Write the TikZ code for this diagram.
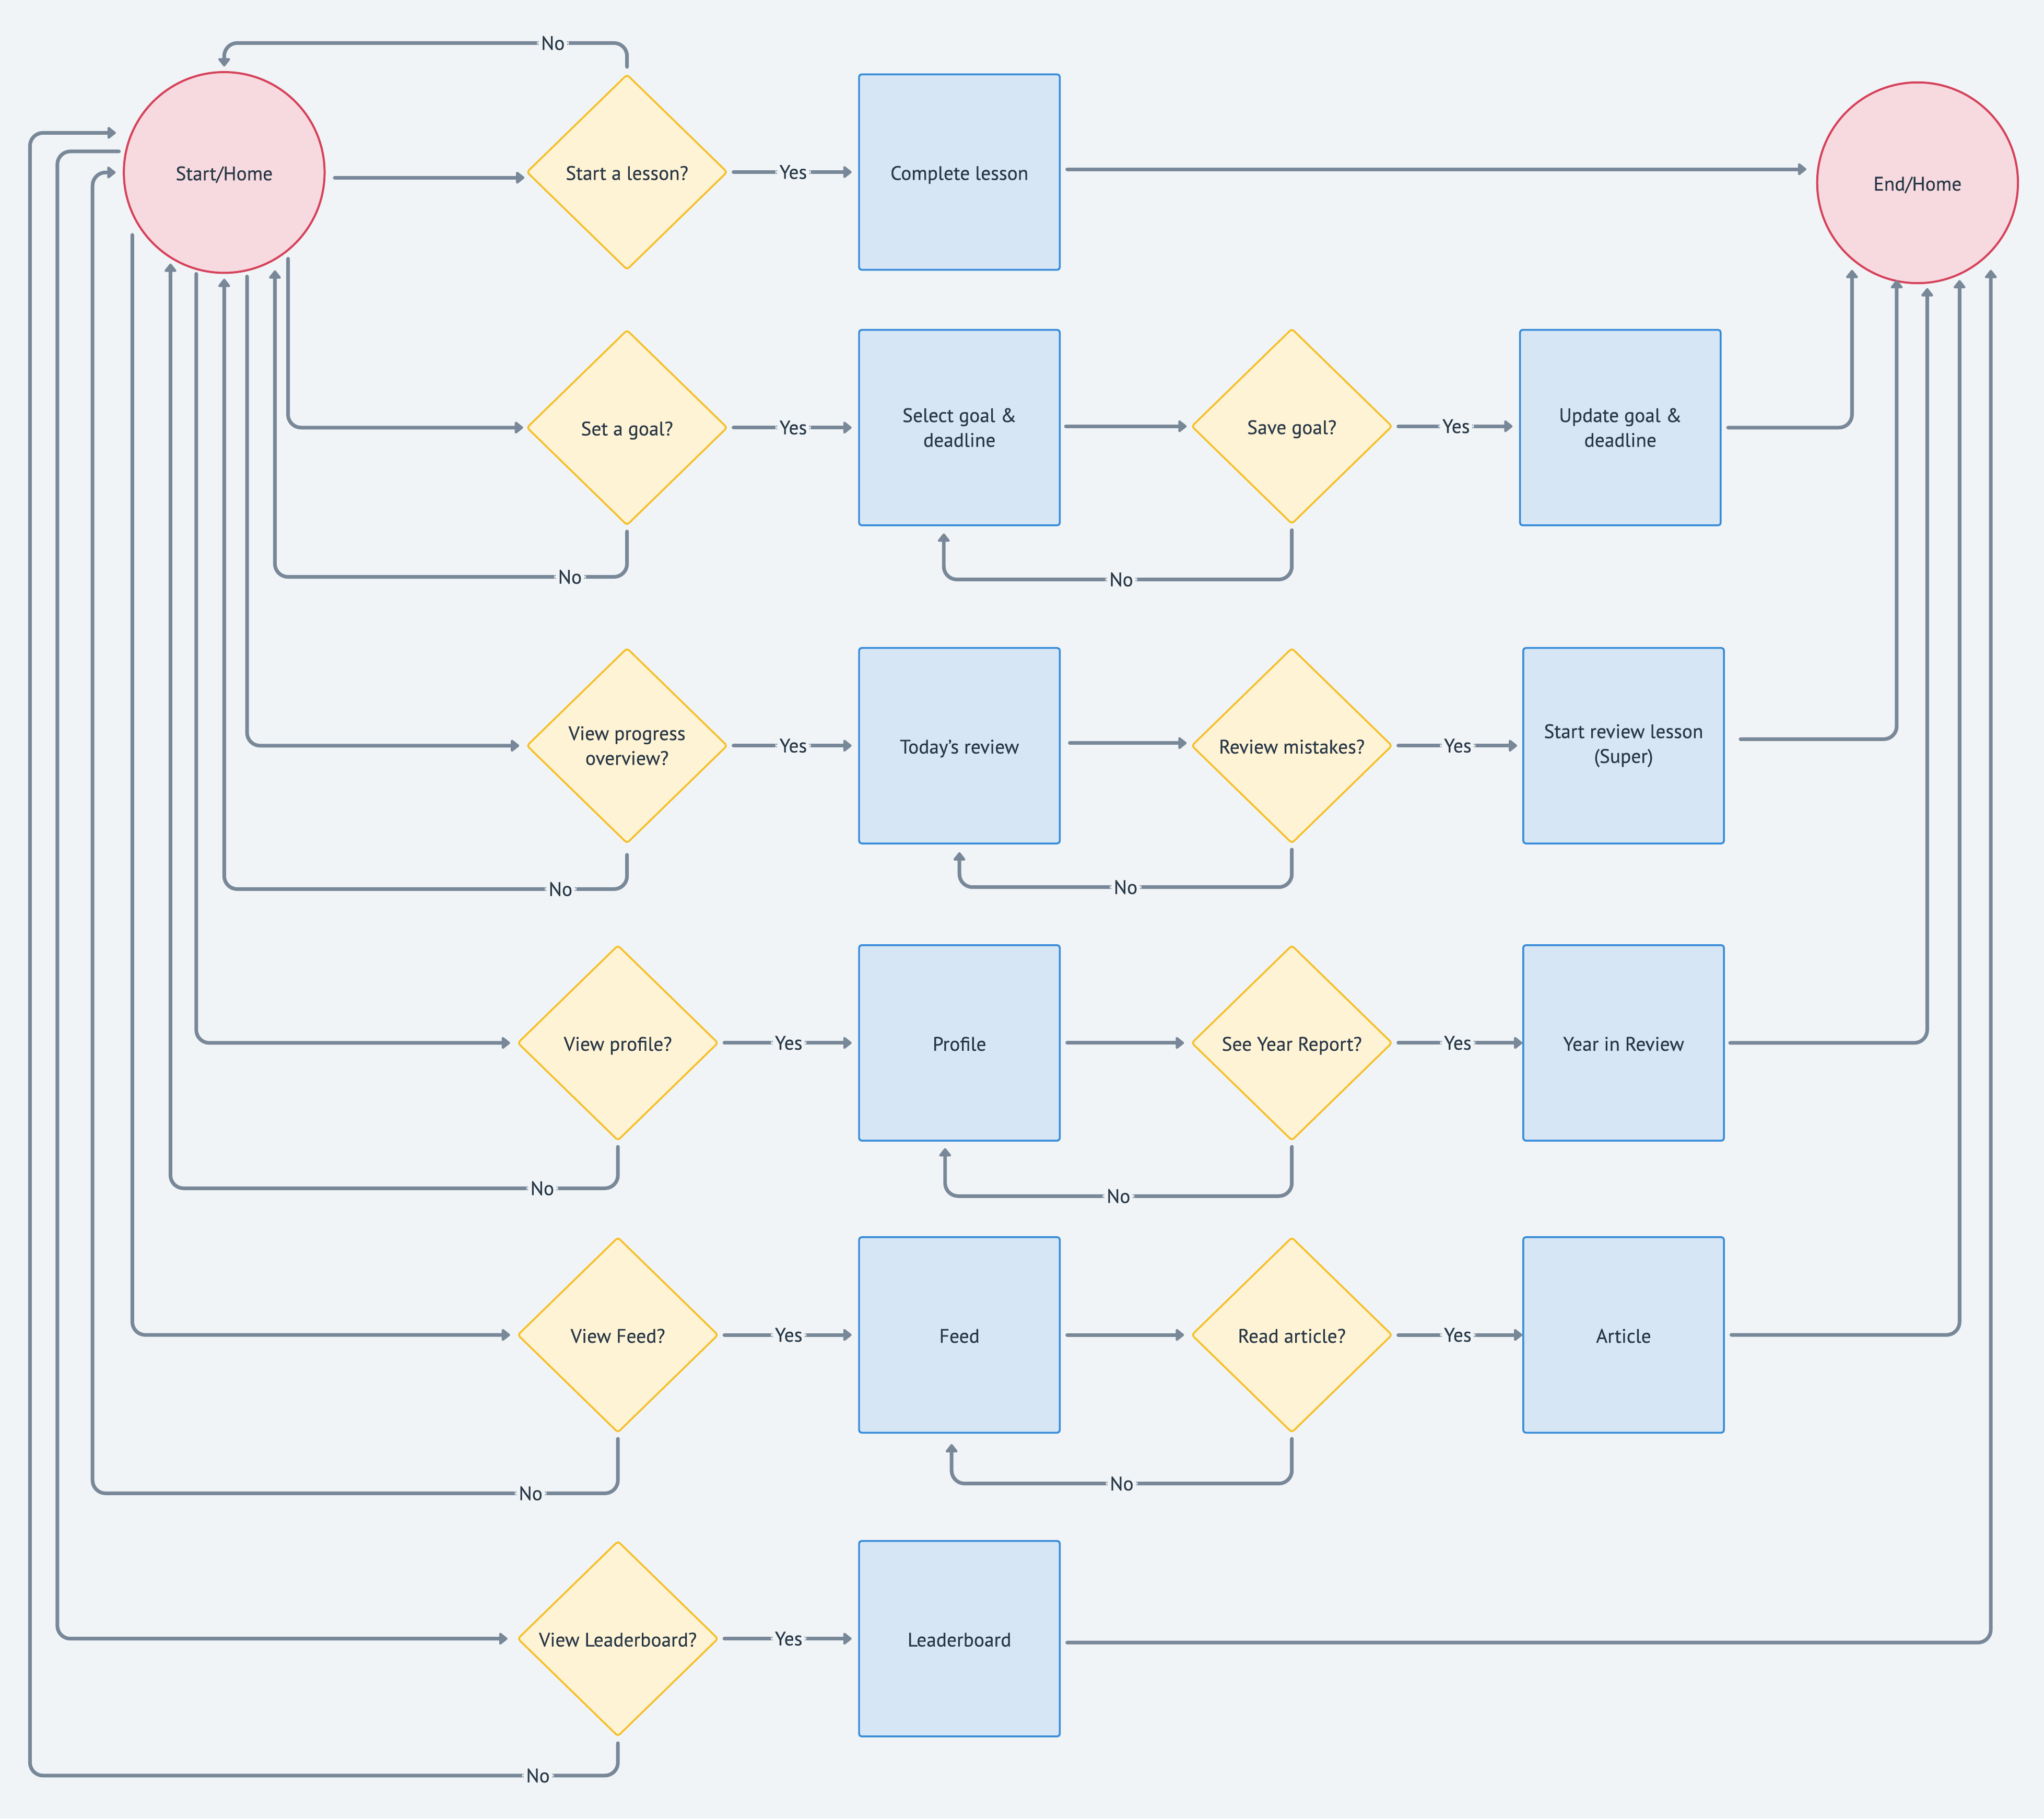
\documentclass[tikz,border=0pt]{standalone}
\usepackage{fontspec}
\setmainfont{PT Sans}[RawFeature={embolden=0.35}]
\usetikzlibrary{shapes.geometric,arrows.meta}
\definecolor{bgc}{HTML}{F0F4F7}
\definecolor{linec}{HTML}{798898}
\definecolor{txtc}{HTML}{263645}
\definecolor{dfill}{HTML}{FFF3D5}
\definecolor{ddraw}{HTML}{F6C02A}
\definecolor{bfill}{HTML}{D6E6F5}
\definecolor{bdraw}{HTML}{368BD9}
\definecolor{cfill}{HTML}{F7DADF}
\definecolor{cdraw}{HTML}{D6425B}
\begin{document}
\begin{tikzpicture}[x=1pt,y=-1pt,
  every node/.style={font=\fontsize{15}{19}\selectfont, text=txtc, align=center},
  term/.style={circle, draw=cdraw, fill=cfill, line width=1.6pt, minimum size=154pt, inner sep=0pt},
  dec/.style={diamond, draw=ddraw, fill=dfill, line width=1.4pt, minimum width=154pt, minimum height=150pt, inner sep=0pt, rounded corners=2pt},
  proc/.style={rectangle, draw=bdraw, fill=bfill, line width=1.4pt, minimum width=154pt, minimum height=150pt, rounded corners=2pt},
  oneline/.style={text height=12pt, text depth=0pt},
  conn/.style={draw=linec, line width=2.8pt, line cap=round, rounded corners=10pt, -{Triangle[length=7pt,width=10.5pt,round]}},
  lbl/.style={fill=bgc, inner xsep=3pt, inner ysep=1pt, text=txtc},
]
\useasboundingbox (0,0) rectangle (1568,1395);
\fill[bgc] (0,0) rectangle (1568,1395);

% nodes
\node[term,oneline] (start) at (172,132.3) {Start/Home};
\node[term,oneline] (end) at (1471,140.2) {End/Home};

\node[dec,oneline] (q1) at (481,132) {Start a lesson?};
\node[proc,oneline] (b1) at (736,132) {Complete lesson};

\node[dec,oneline] (q2) at (481,328) {Set a goal?};
\node[proc] (b2) at (736,328) {Select goal \&\\deadline};
\node[dec,oneline] (q2b) at (991,327) {Save goal?};
\node[proc] (b2c) at (1243,328) {Update goal \&\\deadline};

\node[dec] (q3) at (481,572) {View progress\\overview?};
\node[proc,oneline] (b3) at (736,572) {Today’s review};
\node[dec,oneline] (q3b) at (991,572) {Review mistakes?};
\node[proc] (b3c) at (1245.5,572) {Start review lesson\\(Super)};

\node[dec,oneline] (q4) at (474,800) {View profile?};
\node[proc,oneline] (b4) at (736,800) {Profile};
\node[dec,oneline] (q4b) at (991,800) {See Year Report?};
\node[proc,oneline] (b4c) at (1245.5,800) {Year in Review};

\node[dec,oneline] (q5) at (474,1024) {View Feed?};
\node[proc,oneline] (b5) at (736,1024) {Feed};
\node[dec,oneline] (q5b) at (991,1024) {Read article?};
\node[proc,oneline] (b5c) at (1245.5,1024) {Article};

\node[dec,oneline] (q6) at (474,1257) {View Leaderboard?};
\node[proc,oneline] (b6) at (736,1257) {Leaderboard};

% helper coordinates
\coordinate (ytop) at (0,33);
\coordinate (yno2) at (0,442.5);
\coordinate (ynob2) at (0,444.5);
\coordinate (yno3) at (0,682);
\coordinate (ynob3) at (0,680.5);
\coordinate (yno4) at (0,911.5);
\coordinate (ynob4) at (0,917.5);
\coordinate (yno5) at (0,1145.5);
\coordinate (ynob5) at (0,1138);
\coordinate (yno6) at (0,1362);
\coordinate (xl1) at (23,0);
\coordinate (xl2) at (44,0);
\coordinate (xl3) at (71,0);
\coordinate (s1) at ([yshift=-4pt]start.east);
\coordinate (b2n) at ([xshift=-12pt]b2.south);
\coordinate (b4n) at ([xshift=-11pt]b4.south);
\coordinate (b5n) at ([xshift=-6pt]b5.south);
\coordinate (e1) at ([xshift=-50.3pt,yshift=-66.8pt]end.center);
\coordinate (e2) at ([xshift=-16pt,yshift=-74.6pt]end.center);
\coordinate (e3) at ([xshift=7.4pt,yshift=-80.8pt]end.center);
\coordinate (e4) at ([xshift=32.2pt,yshift=-74.6pt]end.center);
\coordinate (e5) at ([xshift=56.2pt,yshift=-66.8pt]end.center);

% row 1
\draw[conn, shorten <=7pt, shorten >=1pt] (s1) -- (q1.west |- s1);
\draw[conn, shorten <=4pt, shorten >=5pt] (q1.east) -- node[lbl]{Yes} (b1.west);
\draw[conn, shorten <=5pt, shorten >=3.5pt] (q1.north) -- (q1.north |- ytop) -- node[lbl,pos=0.184]{No} (start.north |- ytop) -- (start.north);
\draw[conn, shorten <=5pt, shorten >=7.5pt] ([yshift=2.2pt]b1.east) -- ([yshift=10.4pt]end.west);

% row 2
\draw[conn, shorten <=5.7pt, shorten >=2pt] (start.309) |- (q2.west);
\draw[conn, shorten <=4pt, shorten >=5pt] (q2.east) -- node[lbl]{Yes} (b2.west);
\draw[conn, shorten <=4pt, shorten >=7.7pt] (q2.south) -- (q2.south |- yno2) -- node[lbl,pos=0.162]{No} (start.300 |- yno2) -- (start.300);
\draw[conn, shorten <=4pt, shorten >=3pt] (b2.east |- q2b.west) -- (q2b.west);
\draw[conn, shorten <=4pt, shorten >=5pt] (q2b.east) -- node[lbl]{Yes} (b2c.west |- q2b.east);
\draw[conn, shorten <=4pt, shorten >=5.5pt] (q2b.south) -- (q2b.south |- ynob2) -- node[lbl,pos=0.49]{No} (b2n |- ynob2) -- (b2n);
\draw[conn, shorten <=5pt] (b2c.east) -| (e1);

% row 3
\draw[conn, shorten <=4pt, shorten >=5pt] (start.283) |- (q3.west);
\draw[conn, shorten <=4pt, shorten >=5pt] (q3.east) -- node[lbl]{Yes} (b3.west);
\draw[conn, shorten <=8pt, shorten >=3.7pt] (q3.south) -- (q3.south |- yno3) -- node[lbl,pos=0.165]{No} (start.south |- yno3) -- (start.south);
\draw[conn, shorten <=7pt, shorten >=3pt] ([yshift=2pt]b3.east) -- ([yshift=2pt]q3b.west);
\draw[conn, shorten <=4pt, shorten >=4pt] (q3b.east) -- node[lbl]{Yes} (b3c.west);
\draw[conn, shorten <=4pt, shorten >=6pt] (q3b.south) -- (q3b.south |- ynob3) -- node[lbl,pos=0.5]{No} (b3.south |- ynob3) -- (b3.south);
\draw[conn, shorten <=12pt] ([yshift=5pt]b3c.east) -| (e2);

% row 4
\draw[conn, shorten <=3pt, shorten >=5pt] (start.254) |- (q4.west);
\draw[conn, shorten <=4pt, shorten >=5pt] (q4.east) -- node[lbl]{Yes} (b4.west);
\draw[conn, shorten <=4pt, shorten >=3.9pt] (q4.south) -- (q4.south |- yno4) -- node[lbl,pos=0.169]{No} (start.238 |- yno4) -- (start.238);
\draw[conn, shorten <=5pt, shorten >=5pt] (b4.east) -- (q4b.west);
\draw[conn, shorten <=4pt, shorten >=0pt] (q4b.east) -- node[lbl]{Yes} (b4c.west);
\draw[conn, shorten <=4pt, shorten >=5pt] (q4b.south) -- (q4b.south |- ynob4) -- node[lbl,pos=0.5]{No} (b4n |- ynob4) -- (b4n);
\draw[conn, shorten <=4pt] (b4c.east) -| (e3);

% row 5
\draw[conn, shorten <=15pt, shorten >=5pt] (start.205) |- (q5.west);
\draw[conn, shorten <=4pt, shorten >=5pt] (q5.east) -- node[lbl]{Yes} (b5.west);
\draw[conn, shorten <=4pt, shorten >=5.5pt] (q5.south) -- (q5.south |- yno5) -- node[lbl,pos=0.166]{No} (xl3 |- yno5) -- (xl3 |- start.west) -- (start.west);
\draw[conn, shorten <=5pt, shorten >=5pt] (b5.east) -- (q5b.west);
\draw[conn, shorten <=4pt, shorten >=0pt] (q5b.east) -- node[lbl]{Yes} (b5c.west);
\draw[conn, shorten <=4pt, shorten >=8pt] (q5b.south) -- (q5b.south |- ynob5) -- node[lbl,pos=0.5]{No} (b5n |- ynob5) -- (b5n);
\draw[conn, shorten <=5pt] (b5c.east) -| (e4);

% row 6
\draw[conn, shorten <=4.7pt, shorten >=7pt] (start.168) -- (xl2 |- start.168) -- (xl2 |- q6.west) -- (q6.west);
\draw[conn, shorten <=4pt, shorten >=5pt] (q6.east) -- node[lbl]{Yes} (b6.west);
\draw[conn, shorten <=4.5pt, shorten >=11.5pt] (q6.south) -- (q6.south |- yno6) -- node[lbl,pos=0.136]{No} (xl1 |- yno6) -- (xl1 |- start.157) -- (start.157);
\draw[conn, shorten <=5pt] ([yshift=-3pt]b6.east) -| (e5);
\end{tikzpicture}
\end{document}
